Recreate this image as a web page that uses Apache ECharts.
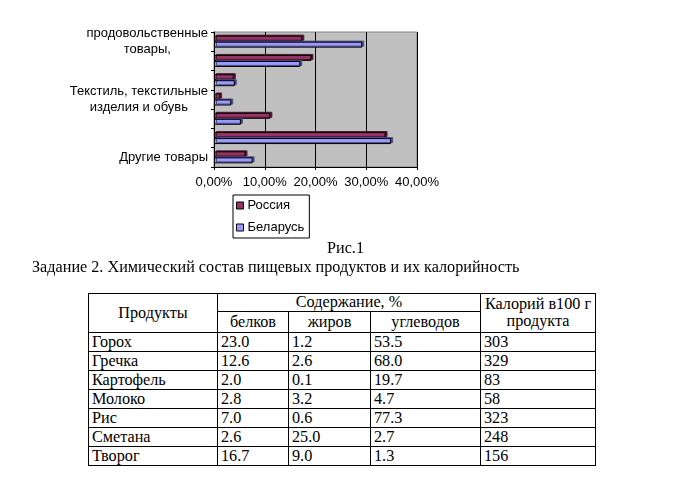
<!DOCTYPE html>
<html>
<head>
<meta charset="utf-8">
<script src="https://cdn.jsdelivr.net/npm/echarts@6/dist/echarts.min.js"></script>
<style>
html,body{margin:0;padding:0;background:#fff;width:679px;height:483px;overflow:hidden;}
#chart{position:absolute;left:0;top:0;width:679px;height:245px;}
.txt{position:absolute;font-family:"Liberation Serif","Times New Roman",serif;font-size:16.2px;color:#000;white-space:nowrap;line-height:18px;}
table{position:absolute;left:88px;top:293px;width:508px;table-layout:fixed;border-collapse:collapse;font-family:"Liberation Serif","Times New Roman",serif;font-size:16.2px;line-height:17px;}
td{border:1px solid #000;padding:0 3px;height:18px;vertical-align:middle;white-space:nowrap;overflow:hidden;}
td.c{text-align:center;}
</style>
</head>
<body>
<div id="chart"></div>
<div class="txt" style="left:327px;top:239px;">Рис.1</div>
<div class="txt" style="left:32px;top:258px;">Задание 2. Химический состав пищевых продуктов и их калорийность</div>
<table id="tbl"></table>
<script>
// Chart data (top to bottom)
const categories = ["продовольственные\nтовары,", "", "", "Текстиль, текстильные\nизделия и обувь", "", "", "Другие товары"];
const russia =  [17.4, 19.2, 3.9, 1.2, 11.1, 33.8, 6.2];
const belarus = [29.2, 17.0, 4.1, 3.4, 5.3, 34.9, 7.6];
const xTicks = [0, 10, 20, 30, 40];
const seriesNames = ["Россия", "Беларусь"];

// Table data
const products = ["Горох", "Гречка", "Картофель", "Молоко", "Рис", "Сметана", "Творог"];
const proteins = ["23.0", "12.6", "2.0", "2.8", "7.0", "2.6", "16.7"];
const fats = ["1.2", "2.6", "0.1", "3.2", "0.6", "25.0", "9.0"];
const carbs = ["53.5", "68.0", "19.7", "4.7", "77.3", "2.7", "1.3"];
const calories = ["303", "329", "83", "58", "323", "248", "156"];

// build table
(function(){
  const t = document.getElementById('tbl');
  const colW = [129, 71, 82, 110, 115];
  let html = '<colgroup>' + colW.map(w => '<col style="width:' + w + 'px">').join('') + '</colgroup>';
  html += '<tr><td class="c" rowspan="2">Продукты</td><td class="c" colspan="3" style="height:17px">Содержание, %</td><td class="c" rowspan="2">Калорий в100 г<br>продукта</td></tr>';
  html += '<tr><td class="c" style="height:20px">белков</td><td class="c">жиров</td><td class="c">углеводов</td></tr>';
  for (let i = 0; i < products.length; i++) {
    html += '<tr><td>' + products[i] + '</td><td>' + proteins[i] + '</td><td>' + fats[i] + '</td><td>' + carbs[i] + '</td><td>' + calories[i] + '</td></tr>';
  }
  t.innerHTML = html;
})();

const chart = echarts.init(document.getElementById('chart'), null, {renderer: 'canvas'});
const sans = '"Liberation Sans", Arial, sans-serif';
const option = {
  animation: false,
  backgroundColor: '#fff',
  textStyle: {fontFamily: sans},
  grid: {left: 214, top: 32, width: 203, height: 135, show: true, backgroundColor: '#C0C0C0', borderColor: '#808080', borderWidth: 1, containLabel: false},
  legend: {
    data: seriesNames,
    orient: 'vertical',
    left: 233, top: 195,
    padding: [4, 5, 4, 3],
    itemWidth: 7, itemHeight: 7, itemGap: 9,
    icon: 'rect',
    borderColor: '#000', borderWidth: 1, borderRadius: 0,
    itemStyle: {borderColor: '#000', borderWidth: 1},
    textStyle: {fontSize: 13, fontFamily: sans, color: '#000', padding: [0, 0, 0, -1]}
  },
  xAxis: {
    type: 'value', min: 0, max: 40, interval: 10,
    axisLine: {show: true, lineStyle: {color: '#000'}},
    axisTick: {show: true, length: 3, lineStyle: {color: '#000'}},
    splitLine: {show: true, lineStyle: {color: '#000', width: 1}},
    axisLabel: {fontSize: 13, color: '#000', fontFamily: sans, margin: 9,
      formatter: v => v.toFixed(2).replace('.', ',') + '%'}
  },
  yAxis: {
    type: 'category', inverse: true, data: categories.map((c, i) => c || ('_' + i)),
    axisLine: {show: true, lineStyle: {color: '#000'}},
    axisTick: {show: true, length: 3, lineStyle: {color: '#000'}},
    axisLabel: {interval: 0, margin: 6, color: '#000', fontSize: 13, fontFamily: sans,
      formatter: (v, i) => categories[i] ? categories[i].split('\n').map(l => '{c|' + l + '}').join('\n') : '',
      rich: {c: {align: 'center', fontSize: 13, lineHeight: 16, fontFamily: sans, color: '#000'}}}
  },
  series: [
    {name: seriesNames[0], type: 'bar', data: russia, barWidth: 6, barGap: '0%',
     itemStyle: {color: '#993366', borderColor: '#000', borderWidth: 1, shadowColor: '#4d1a33', shadowOffsetX: 2, shadowOffsetY: -1, shadowBlur: 0}},
    {name: seriesNames[1], type: 'bar', data: belarus, barWidth: 6, barGap: '0%',
     itemStyle: {color: '#9999FF', borderColor: '#000', borderWidth: 1, shadowColor: '#4d4d80', shadowOffsetX: 2, shadowOffsetY: -1, shadowBlur: 0}}
  ]
};
chart.setOption(option);
</script>
</body>
</html>
